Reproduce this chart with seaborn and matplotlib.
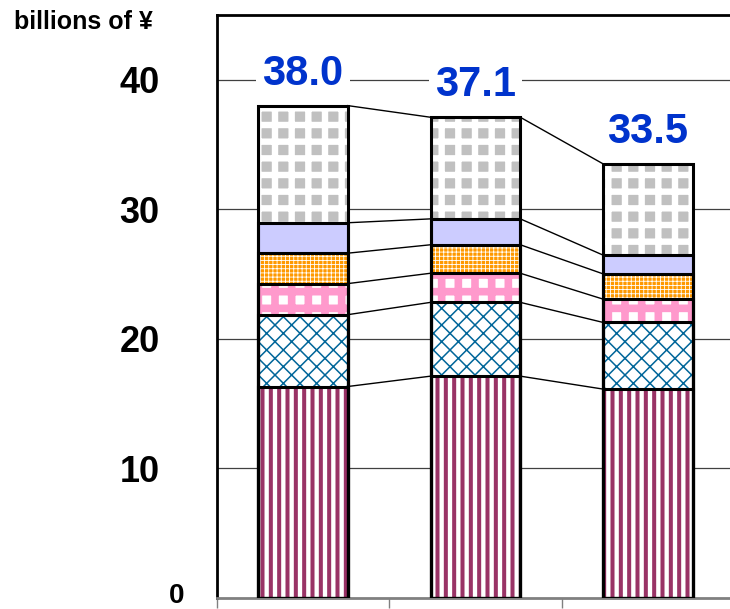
import numpy as np
import pandas as pd
import matplotlib
matplotlib.use('Agg')
import matplotlib.pyplot as plt
import seaborn as sns

# values (billions of yen), bottom segment first
years = ['FY1', 'FY2', 'FY3']
seg_purple = [16.3, 17.1, 16.1]
seg_blue = [5.55, 5.7, 5.15]
seg_pink = [2.4, 2.25, 1.8]
seg_orange = [2.35, 2.2, 1.95]
seg_lavender = [2.35, 2.0, 1.45]
seg_gray = [9.05, 7.85, 7.05]
ytick_vals = [10, 20, 30, 40]

# fill styles per segment
face_cols = ['white', 'white', 'white', '#FF9900', '#CCCCFF', '#C0C0C0']
hatch_cols = ['#993366', '#006699', '#FF99CC', 'white', '#CCCCFF', 'white']
hatches = ['||', 'xx', '+', '++++', '', '+']
hatch_lws = [2.9, 1.1, 5.5, 0.6, 0.5, 4.6]

plt.rcParams['font.family'] = ['Liberation Sans', 'DejaVu Sans']
plt.rcParams['font.weight'] = 'bold'

layers = [seg_purple, seg_blue, seg_pink, seg_orange, seg_lavender, seg_gray]
cum = np.cumsum(np.array(layers), axis=0)
totals = cum[-1]
bar_w = 0.52

fig = plt.figure(figsize=(7.30, 6.09), dpi=100)
ax = fig.add_axes([216.7 / 730, 11.5 / 609, 517.5 / 730, 582.5 / 609])

# stacked bars: draw cumulative heights from the top segment down
for k in range(len(layers) - 1, -1, -1):
    df = pd.DataFrame({'year': years, 'value': cum[k]})
    n0 = len(ax.patches)
    sns.barplot(data=df, x='year', y='value', ax=ax, color=face_cols[k],
                saturation=1, errorbar=None, width=bar_w, hatch=hatches[k],
                edgecolor=hatch_cols[k], linewidth=0, zorder=2)
    for p in ax.patches[n0:]:
        p.set_facecolor(face_cols[k])
        if hasattr(p, 'set_hatch_linewidth'):
            p.set_hatch_linewidth(hatch_lws[k])

# black outlines of every segment
for k in range(len(layers) - 1, -1, -1):
    df = pd.DataFrame({'year': years, 'value': cum[k]})
    sns.barplot(data=df, x='year', y='value', ax=ax, color='black', fill=False,
                saturation=1, errorbar=None, width=bar_w, linewidth=2.2, zorder=3)

# connector lines between neighbouring bars
for i in range(len(years) - 1):
    for k in range(len(layers)):
        ax.plot([i + bar_w / 2, i + 1 - bar_w / 2], [cum[k][i], cum[k][i + 1]],
                color='black', lw=1, zorder=1)

# totals on top
for i, t in enumerate(totals):
    ax.annotate(f'{t:.1f}', xy=(i, t), xytext=(0, 23), textcoords='offset points',
                ha='center', va='center', fontsize=30, fontweight='bold', color='#0033CC',
                bbox=dict(boxstyle='square,pad=0.15', fc='white', ec='none'), zorder=5)

ax.set_xlim(-0.5, 2.5)
ax.set_ylim(0, 45)
ax.set_xticks([-0.5, 0.5, 1.5, 2.5])
ax.set_xticklabels([])
ax.set_yticks(ytick_vals)
ax.set_yticklabels([str(v) for v in ytick_vals], fontsize=26, fontweight='bold')
ax.tick_params(axis='y', length=0, pad=41)
ax.tick_params(axis='x', length=7.5, width=1, color='#808080', direction='out')
ax.set_xlabel('')
ax.set_ylabel('')
ax.yaxis.grid(True, color='#404040', lw=0.9)
ax.set_axisbelow(True)

ax.spines['top'].set_linewidth(2)
ax.spines['left'].set_linewidth(2)
ax.spines['bottom'].set_color('#808080')
ax.spines['bottom'].set_linewidth(2)
ax.spines['right'].set_visible(False)

ax.annotate('0', xy=(0, 0), xycoords='axes fraction', xytext=(-23, 1),
            textcoords='offset points', ha='right', va='center',
            fontsize=20, fontweight='bold', annotation_clip=False)
fig.text(14 / 730, 1 - 22 / 609, 'billions of ¥', ha='left', va='center',
         fontsize=18, fontweight='bold')

fig.savefig('out.png', dpi=100)
